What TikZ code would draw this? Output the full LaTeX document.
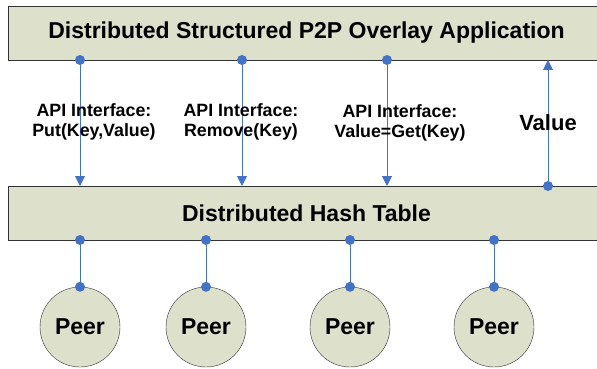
\documentclass[tikz,border=0pt]{standalone}
\usepackage{fontspec}
\setmainfont{Liberation Sans}
\usetikzlibrary{arrows.meta,positioning}
\definecolor{layerfill}{RGB}{221,224,203}
\definecolor{linkblue}{RGB}{68,114,196}
\tikzset{layer/.style={draw=black!80,fill=layerfill,minimum width=597pt,minimum height=54pt,inner sep=0pt,font=\bfseries\fontsize{23}{25}\selectfont}}
\tikzset{peer/.style={circle,draw=black!80,fill=layerfill,minimum size=80pt,inner sep=0pt,font=\bfseries\fontsize{23}{25}\selectfont}}
\tikzset{dot/.style={circle,fill=linkblue,minimum size=10pt,inner sep=0pt}}
\tikzset{link/.style={color=linkblue,line width=1pt},link/.default=linkblue}
\tikzset{api/.style={align=center,inner sep=0pt,font=\bfseries\fontsize{17.8}{20.5}\selectfont}}

\begin{document}
\begin{tikzpicture}[x=1pt,y=-1pt,>={Triangle[length=10pt,width=10pt]}]
		\useasboundingbox (0,0) rectangle (597,369);
		\clip (0,0) rectangle (597,369);
		
		% layers
		\node [layer] (app) at (306.5,33) {Distributed Structured P2P Overlay Application};
		\node [layer] (dht) at (306.5,213) {Distributed Hash Table};
		
		% peers
		\foreach \px [count=\i] in {80,206,350,494} {
			\node [peer] (peer\i) at (\px,327) {Peer};
			\node [dot] (top\i) at (\px,240) {};
			\node [dot] (bot\i) at (peer\i.north) {};
			\draw [link] (top\i) -- (bot\i);
		}
		
		% API calls
		\foreach \ax [count=\i] in {80,242,387} {
			\node [dot] (call\i) at (\ax,60) {};
			\coordinate (hit\i) at (\ax,186);
			\draw [link,->] (call\i) -- (hit\i);
		}
		\node [dot] (ret) at (548,186) {};
		\coordinate (back) at (548,60);
		\draw [link,->] (ret) -- (back);
		
		% labels
		\node [api] (put) at (94,122) {API Interface:\\Put(Key,Value)};
		\node [api] (remove) at (241,122) {API Interface:\\Remove(Key)};
		\node [api] (get) at (400,123) {API Interface:\\Value=Get(Key)};
		\node [font=\bfseries\fontsize{22}{24}\selectfont] (value) at (548,123) {Value};
	\end{tikzpicture}
\end{document}
